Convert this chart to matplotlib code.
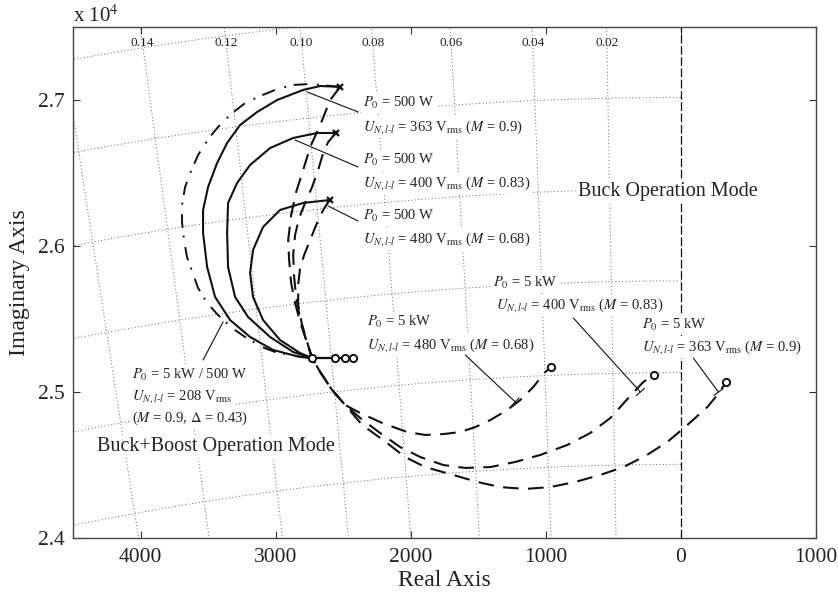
import numpy as np
import matplotlib
matplotlib.use("Agg")
import matplotlib.pyplot as plt
from matplotlib.ticker import FuncFormatter

plt.rcParams['font.family'] = ['Liberation Serif', 'DejaVu Serif']
plt.rcParams['mathtext.fontset'] = 'stix'

# s-plane grid (damping ratios / natural frequencies in Hz)
zeta_grid = [0.165, 0.144, 0.122, 0.102, 0.083, 0.062, 0.040, 0.020]
zeta_labels = ['', '0.14', '0.12', '0.10', '0.08', '0.06', '0.04', '0.02']
fn_grid = [3900, 4000, 4100, 4200, 4300, 4400]

# P0 = 500 W loci (solid)
sol363_re = [-2522, -2670, -2796, -2989, -3137, -3263, -3359, -3433, -3500, -3537,
             -3537, -3507, -3448, -3337, -3189, -3019, -2819, -2730, -2426]
sol363_im = [27090, 27096, 27069, 27000, 26918, 26829, 26706, 26569, 26404, 26247,
             26089, 25856, 25651, 25493, 25377, 25288, 25240, 25233, 25233]
sol400_re = [-2555, -2693, -2870, -3041, -3189, -3285, -3352, -3359, -3352, -3300,
             -3204, -3041, -2870, -2730, -2485]
sol400_im = [26774, 26774, 26740, 26671, 26555, 26432, 26295, 26089, 25856, 25651,
             25514, 25377, 25274, 25233, 25233]
sol480_re = [-2600, -2796, -2967, -3093, -3167, -3189, -3167, -3093, -2967, -2819, -2730, -2559]
sol480_im = [26315, 26295, 26247, 26130, 25973, 25815, 25651, 25493, 25356, 25267, 25233, 25233]

# P0 = 5 kW / 500 W, U = 208 Vrms (dash-dot)
dd208_re = [-2522, -2745, -2870, -2989, -3115, -3226, -3330, -3426, -3493, -3574, -3626,
            -3670, -3693, -3693, -3678, -3656, -3611, -3574, -3507, -3426, -3322, -3226,
            -3100, -3004, -2856, -2730]
dd208_im = [27090, 27110, 27103, 27075, 27027, 26979, 26904, 26815, 26740, 26623, 26514,
            26404, 26281, 26164, 26041, 25925, 25808, 25712, 25610, 25527, 25438, 25377,
            25308, 25274, 25247, 25233]

# P0 = 5 kW loci (dashed)
da363_re = [-2522, -2596, -2670, -2744, -2796, -2848, -2885, -2907, -2900, -2885, -2856,
            -2819, -2774, -2730, -2670, -2582, -2485, -2359, -2204, -2041, -1893, -1708,
            -1507, -1337, -1152, -967, -782, -597, -426, -263, -100, 48, 196, 270, 337]
da363_im = [27090, 27000, 26829, 26678, 26521, 26370, 26212, 26041, 25904, 25747, 25610,
            25480, 25356, 25233, 25137, 25014, 24911, 24774, 24671, 24555, 24486, 24438,
            24384, 24349, 24336, 24349, 24384, 24432, 24486, 24562, 24658, 24774, 24897,
            24980, 25069]
da400_re = [-2555, -2611, -2648, -2685, -2730, -2782, -2826, -2856, -2870, -2863, -2848,
            -2819, -2774, -2730, -2670, -2582, -2485, -2374, -2226, -2078, -1930, -1759,
            -1596, -1411, -1226, -1041, -841, -671, -522, -389, -278, -197]
da400_im = [26774, 26712, 26637, 26521, 26404, 26295, 26192, 26075, 25938, 25788, 25651,
            25507, 25356, 25233, 25137, 25014, 24911, 24822, 24719, 24623, 24555, 24500,
            24480, 24486, 24521, 24569, 24637, 24719, 24822, 24959, 25069, 25117]
da480_re = [-2600, -2648, -2700, -2744, -2789, -2819, -2833, -2833, -2804, -2767, -2730,
            -2670, -2582, -2485, -2374, -2211, -2026, -1893, -1759, -1633, -1522, -1411,
            -1285, -1189, -1093, -1004, -959]
da480_im = [26315, 26247, 26144, 26041, 25938, 25849, 25733, 25596, 25459, 25343, 25233,
            25137, 25014, 24911, 24856, 24788, 24726, 24706, 24712, 24726, 24760, 24808,
            24877, 24945, 25034, 25137, 25171]

x_ticks = [-4000, -3000, -2000, -1000, 0, 1000]
y_ticks = [24000, 25000, 26000, 27000]

ink = '#111111'
txt = '#222222'

fig = plt.figure(figsize=(8.38, 5.99), dpi=100)
ax = fig.add_axes([0.0871, 0.1018, 0.8866, 0.8531])
ax.set_xlim(-4500, 1000)
ax.set_ylim(24000, 27500)

# sgrid-like dotted grid, left half plane only
grid_kw = dict(color='#666666', lw=0.7, ls=(0, (1, 2.5)), zorder=1)
ys = np.array([0, 30000])
for z in zeta_grid:
    k = z / np.sqrt(1 - z**2)
    ax.plot(-k * ys, ys, **grid_kw)
th = np.linspace(np.pi / 2, np.pi, 400)
for f in fn_grid:
    w = 2 * np.pi * f
    ax.plot(w * np.cos(th), w * np.sin(th), **grid_kw)
for z, lab in zip(zeta_grid, zeta_labels):
    if lab:
        k = z / np.sqrt(1 - z**2)
        ax.text(-k * 27390, 27390, lab, fontsize=9.5, color=txt, ha='center', va='center', zorder=2)

ax.axvline(0, color=ink, lw=0.9, ls=(0, (7, 2)), zorder=2)

# loci
for re, im in [(sol363_re, sol363_im), (sol400_re, sol400_im), (sol480_re, sol480_im)]:
    ax.plot(re, im, color=ink, lw=1.5, zorder=3)
ax.plot(dd208_re, dd208_im, color=ink, lw=1.4, ls=(0, (7, 4, 1, 5)), zorder=3)
for re, im in [(da363_re, da363_im), (da400_re, da400_im), (da480_re, da480_im)]:
    ax.plot(re, im, color=ink, lw=1.5, ls=(0, (7.5, 4.5)), zorder=3)

# poles and zeros
poles_re = [sol363_re[0], sol400_re[0], sol480_re[0]]
poles_im = [sol363_im[0], sol400_im[0], sol480_im[0]]
ax.plot(poles_re, poles_im, 'x', color=ink, ms=5, mew=1.6, zorder=5)
zeros_re = [sol363_re[-1], sol400_re[-1], sol480_re[-1], dd208_re[-1],
            da363_re[-1], da400_re[-1], da480_re[-1]]
zeros_im = [sol363_im[-1], sol400_im[-1], sol480_im[-1], dd208_im[-1],
            da363_im[-1], da400_im[-1], da480_im[-1]]
ax.plot(zeros_re, zeros_im, 'o', color=ink, mfc='white', ms=5.2, mew=1.4, zorder=5)

# annotations
box = dict(facecolor='white', edgecolor='none', pad=1.5)


def label(x, y, s, size=10.5):
    ax.text(x, y, s, fontsize=size, color=txt, ha='left', va='center', bbox=box, zorder=4)


def leader(start, tip, bar=False):
    style = '-[, widthB=0.4, lengthB=0' if bar else '-'
    ax.annotate('', xy=tip, xytext=start,
                arrowprops=dict(arrowstyle=style, color=ink, lw=0.8, shrinkA=0, shrinkB=0),
                zorder=4)


P = r'$P_{\mathit{0}}$'
U = r'$U_{N,l\text{-}l}$'
Vr = r'V$_{\rm rms}$'
label(-2352, 26979, P + ' = 500 W')
label(-2352, 26815, U + ' = 363 ' + Vr + r' ($M$ = 0.9)')
label(-2352, 26589, P + ' = 500 W')
label(-2352, 26432, U + ' = 400 ' + Vr + r' ($M$ = 0.83)')
label(-2352, 26206, P + ' = 500 W')
label(-2352, 26048, U + ' = 480 ' + Vr + r' ($M$ = 0.68)')
leader((-2389, 26918), (-2767, 27055))
leader((-2389, 26541), (-2856, 26726))
leader((-2389, 26171), (-2611, 26274))

label(-2322, 25480, P + ' = 5 kW')
label(-2322, 25322, U + ' = 480 ' + Vr + r' ($M$ = 0.68)')
label(-1389, 25747, P + ' = 5 kW')
label(-1367, 25596, U + ' = 400 ' + Vr + r' ($M$ = 0.83)')
label(-285, 25459, P + ' = 5 kW')
label(-285, 25308, U + ' = 363 ' + Vr + r' ($M$ = 0.9)')
leader((-1596, 25254), (-1226, 24932), bar=True)
leader((-796, 25507), (-300, 25000), bar=True)
leader((92, 25233), (278, 25000), bar=True)

label(-4063, 25117, P + ' = 5 kW / 500 W')
label(-4063, 24966, U + ' = 208 ' + Vr)
label(-4063, 24822, r'($M$ = 0.9, $\Delta$ = 0.43)')
leader((-3537, 25219), (-3389, 25480))

label(-759, 26370, 'Buck Operation Mode', size=14.5)
label(-4322, 24630, 'Buck+Boost Operation Mode', size=14.5)

# axes styling
ax.set_xticks(x_ticks)
ax.set_yticks(y_ticks)
ax.xaxis.set_major_formatter(FuncFormatter(lambda v, p: f'{abs(v):.0f}'))
ax.yaxis.set_major_formatter(FuncFormatter(lambda v, p: f'{v / 1e4:.1f}'))
ax.tick_params(direction='in', length=5, width=0.8, top=True, right=True,
               labelsize=15.5, colors='#333333', labelcolor=txt)
ax.tick_params(axis='x', pad=7)
ax.tick_params(axis='y', pad=6)
for sp in ax.spines.values():
    sp.set_color('#444444')
    sp.set_linewidth(1.0)
ax.set_xlabel('Real Axis', fontsize=17, color=txt, labelpad=2)
ax.set_ylabel('Imaginary Axis', fontsize=17, color=txt, labelpad=6)
fig.text(73 / 838, 1 - 22 / 599, r'x 10$^4$', fontsize=15, color=txt, ha='left', va='baseline')

fig.savefig('out.png', dpi=100)
